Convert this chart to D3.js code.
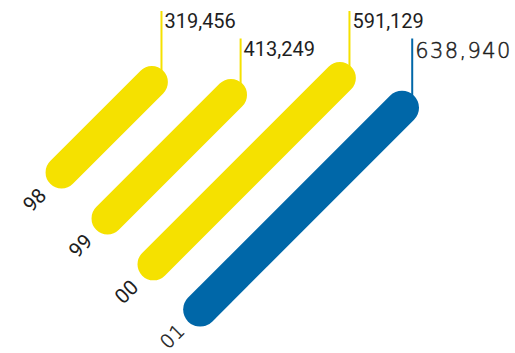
<!DOCTYPE html>
<html>
<head>
<meta charset="utf-8">
<script src="https://cdn.jsdelivr.net/npm/d3@7"></script>
<style>
  html, body { margin: 0; padding: 0; background: #fff; }
  svg { display: block; }
</style>
</head>
<body>
<svg id="chart" width="515" height="353"></svg>
<script>
// Yearly totals, drawn as diagonal pill-shaped bars
const categories = ["98", "99", "00", "01"];
const values = [319456, 413249, 591129, 638940];
const highlightYear = "01";

const W = 515, H = 353;
const svg = d3.select("#chart");

const yellow = "#f5e100";
const blue = "#0067a8";
const ink = "#1e1e1e";

// The bar frame is rotated -45deg: local x runs up-right, local y runs down-right
const origin = { x: 50.25, y: 183.75 };
const angle = -45;
const R = Math.SQRT1_2;
const toScreen = (lx, ly) => [origin.x + (lx + ly) * R, origin.y + (ly - lx) * R];

const len = d3.scaleLinear().domain([0, 700000]).range([0, 350]);
const band = d3.scalePoint().domain(categories).range([0, 195]);

const rows = categories.map((c, i) => ({
  cat: c,
  value: values[i],
  i,
  hi: c === highlightYear,
  r: c === highlightYear ? 17 : 16
}));

const fmt = d3.format(",");

// Highlighted year uses a lighter, wider face
const styleText = sel => sel
  .attr("font-family", d => d.hi ? "'DejaVu Sans', sans-serif" : "Roboto, sans-serif")
  .attr("font-weight", d => d.hi ? 200 : 400)
  .attr("stroke", d => d.hi ? ink : "none")
  .attr("stroke-width", d => d.hi ? 0.5 : 0)
  .attr("fill", ink);

// Leader lines from each bar's end up to its value label
const leaderTop = d => (d.i % 2 === 0 ? 11 : 38.5);
const leaderX = d => {
  const [x] = toScreen(len(d.value) - d.r, band(d.cat));
  return x + d.r * 0.6;
};
const endY = d => toScreen(len(d.value) - d.r, band(d.cat))[1];

svg.append("g").selectAll("line")
  .data(rows)
  .join("line")
  .attr("x1", leaderX)
  .attr("x2", leaderX)
  .attr("y1", endY)
  .attr("y2", leaderTop)
  .attr("stroke", d => d.hi ? blue : yellow)
  .attr("stroke-width", 2);

svg.append("g").selectAll("text")
  .data(rows)
  .join("text")
  .attr("x", d => leaderX(d) + 3)
  .attr("y", d => leaderTop(d) + (d.hi ? 19.5 : 17))
  .attr("font-size", d => d.hi ? 21 : 20)
  .attr("letter-spacing", d => d.hi ? 1.4 : 0)
  .call(styleText)
  .text(d => fmt(d.value));

// Rotated frame with the bars and year labels
const frame = svg.append("g")
  .attr("transform", `translate(${origin.x},${origin.y}) rotate(${angle})`);

frame.selectAll("rect")
  .data(rows)
  .join("rect")
  .attr("x", 0)
  .attr("y", d => band(d.cat) - d.r)
  .attr("width", d => len(d.value))
  .attr("height", d => d.r * 2)
  .attr("rx", d => d.r)
  .attr("ry", d => d.r)
  .attr("fill", d => d.hi ? blue : yellow);

frame.selectAll("text")
  .data(rows)
  .join("text")
  .attr("x", d => d.hi ? -8 : -11)
  .attr("y", d => band(d.cat) - (d.hi ? 1 : 0))
  .attr("dy", "0.36em")
  .attr("text-anchor", "end")
  .attr("font-size", d => d.hi ? 19 : 20.5)
  .attr("letter-spacing", d => d.hi ? 1 : 0)
  .call(styleText)
  .text(d => d.cat);
</script>
</body>
</html>
